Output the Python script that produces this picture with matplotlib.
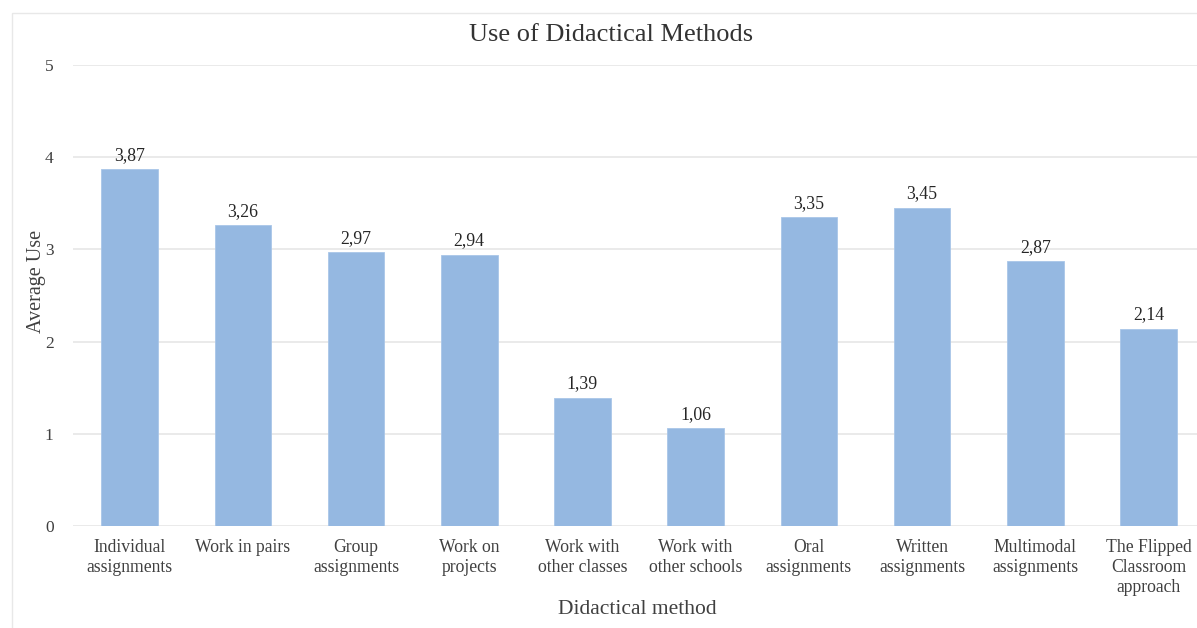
import matplotlib.pyplot as plt
from matplotlib.patches import Rectangle

metodos = ['Individual\nassignments', 'Work in pairs', 'Group\nassignments', 'Work on\nprojects',
           'Work with\nother classes', 'Work with\nother schools', 'Oral\nassignments',
           'Written\nassignments', 'Multimodal\nassignments', 'The Flipped\nClassroom\napproach']
medias = [3.87, 3.26, 2.97, 2.94, 1.39, 1.06, 3.35, 3.45, 2.87, 2.14]
y_ticks = [0, 1, 2, 3, 4, 5]

plt.rcParams['font.family'] = ['Liberation Serif', 'DejaVu Serif']

fig = plt.figure(figsize=(11.97, 6.28), dpi=100)
# marco exterior del grafico
fig.patches.append(Rectangle((12 / 1197, -0.1), 1.2, 1 - 13 / 628 + 0.1, transform=fig.transFigure,
                             fill=False, edgecolor='#E8E8E8', linewidth=1))
ax = fig.add_axes([73 / 1197, 1 - 526 / 628, (1205 - 73) / 1197, (526 - 65) / 628])

x = range(len(metodos))
barras = ax.bar(x, medias, width=0.5, color='#95B8E1', edgecolor='#A9C6E8', linewidth=0.6, zorder=3)
for b, v in zip(barras, medias):
    ax.text(b.get_x() + b.get_width() / 2, v + 0.06, f'{v:.2f}'.replace('.', ','),
            ha='center', va='bottom', fontsize=12.8, color='#262626')

ax.set_xlim(-0.5, len(metodos) - 0.5)
ax.set_ylim(0, 5)
ax.set_yticks(y_ticks)
ax.set_xticks(list(x))
ax.set_xticklabels(metodos, fontsize=12.7, color='#404040', linespacing=1.25)
ax.tick_params(axis='y', labelsize=12.5, labelcolor='#404040', length=0, pad=14)
ax.tick_params(axis='x', length=0, pad=9)
ax.yaxis.grid(True, color='#E6E6E6', linewidth=1.2, zorder=0)
for s in ax.spines.values():
    s.set_visible(False)

fig.text(611 / 1197, 1 - 35 / 628, 'Use of Didactical Methods', ha='center', va='center',
         fontsize=19, color='#333333')
fig.text(637 / 1197, 1 - 610 / 628, 'Didactical method', ha='center', va='center',
         fontsize=15.5, color='#404040')
fig.text(37 / 1197, 1 - 281 / 628, 'Average Use', ha='center', va='center', rotation=90,
         fontsize=14.5, color='#404040')

fig.savefig('out.png', dpi=100)
